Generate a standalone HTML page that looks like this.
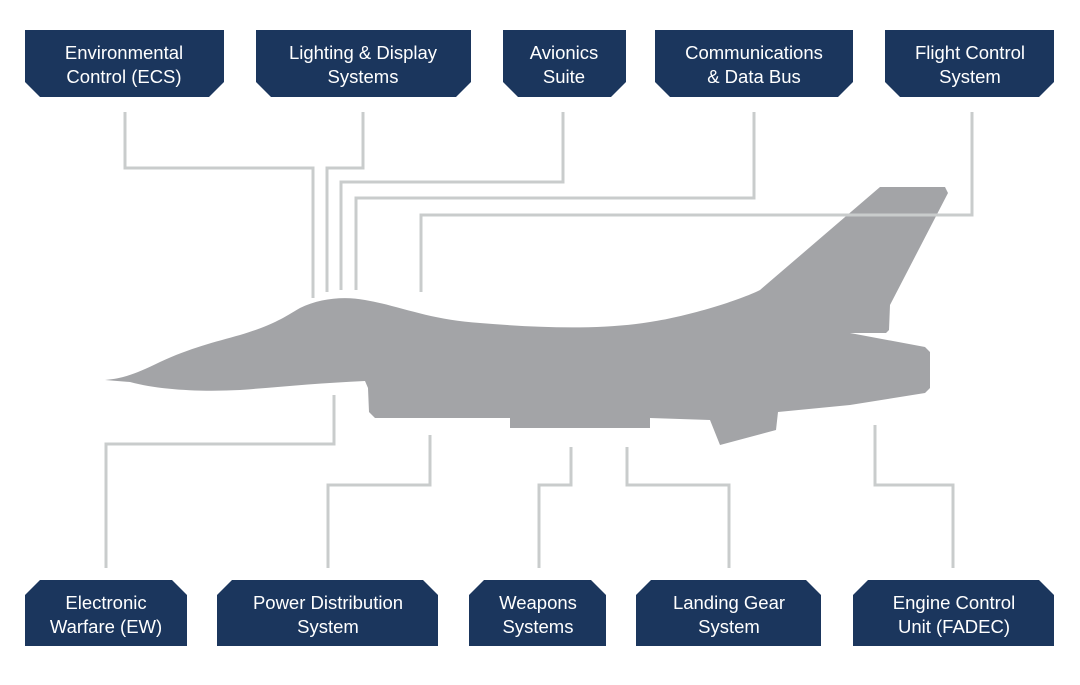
<!DOCTYPE html>
<html><head><meta charset="utf-8"><style>
body{margin:0;background:#fff;width:1080px;height:680px;overflow:hidden;font-family:"Liberation Sans",sans-serif}
</style></head><body>
<svg width="1080" height="680" viewBox="0 0 1080 680" xmlns="http://www.w3.org/2000/svg">
<path fill="#a3a4a7" d="M105,380 C125,378 135,374 160,362 C190,348 215,342 240,335 C270,326 280,320 300,308 C320,298 345,296 365,300 C400,306 430,320 480,323 C540,328 600,330 650,322 C690,316 740,300 760,290 L880,187 L945,187 L948,193 L890,305 L889,330 L886,333 L850,333 L925,347 L930,352 L930,388 L925,393 L850,405 L778,412 L776,430 L720,445 L710,420 L650,418 L650,428 L510,428 L510,418 L375,418 L369,412 L368,388 L365,381 C320,383 280,387 240,390 C200,392 160,390 130,382 Z"/>
<g fill="none" stroke="#c9cccc" stroke-width="3">
<polyline points="125,112 125,168 313,168 313,298"/>
<polyline points="363,112 363,168 327,168 327,292"/>
<polyline points="563,112 563,182 341,182 341,290"/>
<polyline points="754,112 754,198 356,198 356,290"/>
<polyline points="972,112 972,215 421,215 421,292"/>
<polyline points="334,395 334,444 106,444 106,568"/>
<polyline points="430,435 430,485 328,485 328,568"/>
<polyline points="571,447 571,485 539,485 539,568"/>
<polyline points="627,447 627,485 729,485 729,568"/>
<polyline points="875,425 875,485 953,485 953,568"/>
</g>
<g fill="#1b365d">
<polygon points="25,30 224,30 224,82 209,97 40,97 25,82"/>
<polygon points="256,30 471,30 471,82 456,97 271,97 256,82"/>
<polygon points="503,30 626,30 626,82 611,97 518,97 503,82"/>
<polygon points="655,30 853,30 853,82 838,97 670,97 655,82"/>
<polygon points="885,30 1054,30 1054,82 1039,97 900,97 885,82"/>
<polygon points="40,580 172,580 187,595 187,646 25,646 25,595"/>
<polygon points="232,580 423,580 438,595 438,646 217,646 217,595"/>
<polygon points="484,580 591,580 606,595 606,646 469,646 469,595"/>
<polygon points="651,580 806,580 821,595 821,646 636,646 636,595"/>
<polygon points="868,580 1039,580 1054,595 1054,646 853,646 853,595"/>
</g>
<g fill="#fff" font-family="Liberation Sans, sans-serif" font-size="18.5" text-anchor="middle">
<text x="124" y="59">Environmental</text><text x="124" y="83">Control (ECS)</text>
<text x="363" y="59">Lighting &amp; Display</text><text x="363" y="83">Systems</text>
<text x="564" y="59">Avionics</text><text x="564" y="83">Suite</text>
<text x="754" y="59">Communications</text><text x="754" y="83">&amp; Data Bus</text>
<text x="970" y="59">Flight Control</text><text x="970" y="83">System</text>
<text x="106" y="609">Electronic</text><text x="106" y="633">Warfare (EW)</text>
<text x="328" y="609">Power Distribution</text><text x="328" y="633">System</text>
<text x="538" y="609">Weapons</text><text x="538" y="633">Systems</text>
<text x="729" y="609">Landing Gear</text><text x="729" y="633">System</text>
<text x="954" y="609">Engine Control</text><text x="954" y="633">Unit (FADEC)</text>
</g>
</svg>
</body></html>
